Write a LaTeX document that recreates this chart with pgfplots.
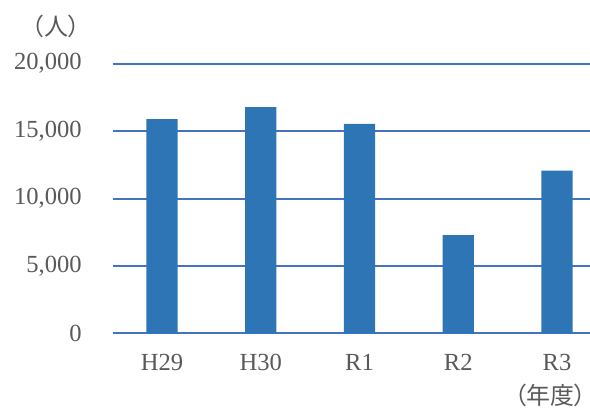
\documentclass[border=0pt]{standalone}
\usepackage{fontspec}
\usepackage{pgfplots}
\pgfplotsset{compat=1.18}
\setmainfont{Liberation Serif}
\newfontfamily\cjk[RawFeature=+palt]{Noto Sans CJK JP}
\definecolor{barblue}{HTML}{2E75B6}
\definecolor{gridblue}{HTML}{4472C4}
\definecolor{txtgray}{HTML}{595959}
\begin{document}
\begin{tikzpicture}[x=1bp,y=1bp]
\useasboundingbox (0,0) rectangle (442.5,309);
\begin{axis}[
  at={(84.45bp,58.9bp)}, anchor=south west,
  scale only axis, width=358bp, height=202.4bp,
  xmin=-0.5, xmax=4.334,
  ymin=0, ymax=20000,
  axis line style={draw=none},
  ytick={0,5000,10000,15000,20000},
  xtick={0,1,2,3,4},
  xticklabels={H29,H30,R1,R2,R3},
  major tick length=0pt,
  ymajorgrids, grid style={gridblue, line width=1.5bp},
  /pgf/number format/assume math mode=true,
  /pgf/number format/1000 sep={,},
  scaled y ticks=false,
  yticklabel style={font=\fontsize{18.5}{21}\selectfont, text=txtgray, anchor=east, inner sep=0pt, xshift=-23bp},
  xticklabel style={font=\fontsize{18.5}{21}\selectfont, text=txtgray, anchor=north, inner sep=0pt, yshift=-15.2bp},
  clip=false,
]
\addplot[ybar, bar width=0.315, fill=barblue, draw=none] coordinates {
  (0,15880) (1,16770) (2,15530) (3,7280) (4,12070)
};
\end{axis}
\node[text=txtgray, font=\cjk\fontsize{18}{20}\selectfont, inner sep=0pt] at (42,289.1) {（人）};
\node[text=txtgray, font=\cjk\fontsize{18}{20}\selectfont, inner sep=0pt, anchor=base east] at (440,6) {（年度）};
\end{tikzpicture}
\end{document}
